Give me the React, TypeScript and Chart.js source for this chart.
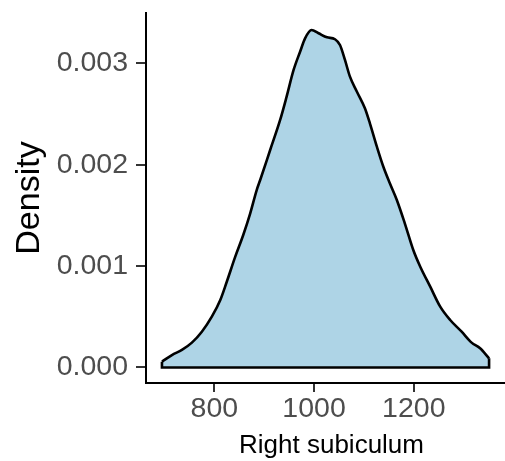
import React, { useEffect, useRef } from "react";
import { Chart, registerables } from "chart.js";

Chart.register(...registerables);

// Kernel density estimate of "Right subiculum"
const densityX = [695, 715, 735, 755, 775, 795, 812, 825, 842, 858, 872, 885, 892, 912, 932, 945, 959, 972, 982, 995, 1009, 1026, 1042, 1052, 1062, 1072, 1086, 1102, 1112, 1126, 1139, 1152, 1166, 1182, 1199, 1213, 1233, 1253, 1273, 1296, 1316, 1333, 1351];
const densityY = [0.000057, 0.000123, 0.000173, 0.000245, 0.000353, 0.000501, 0.000666, 0.000846, 0.001093, 0.001307, 0.001521, 0.00175, 0.001849, 0.002145, 0.002441, 0.002671, 0.002934, 0.003114, 0.003246, 0.003328, 0.003296, 0.003256, 0.003237, 0.00318, 0.003033, 0.002868, 0.00272, 0.002556, 0.002408, 0.002178, 0.00198, 0.001817, 0.001652, 0.001422, 0.001159, 0.000994, 0.000797, 0.0006, 0.000468, 0.000353, 0.000245, 0.000189, 0.000091];

const xTicks = [800, 1000, 1200];
const yTicks = [0, 0.001, 0.002, 0.003];
const xRange = [663, 1407];
const yRange = [-0.000153, 0.003496];

const xTitle = "Right subiculum";
const yTitle = "Density";

const FAMILY = "'Liberation Sans', Arial, Helvetica, sans-serif";

export default function App() {
  const ref = useRef<HTMLCanvasElement | null>(null);

  useEffect(() => {
    if (!ref.current) return;
    const curve = densityX.map((x, i) => ({ x, y: densityY[i] }));
    const n = densityX.length - 1;
    const outline = [
      { x: densityX[0], y: densityY[0] },
      { x: densityX[0], y: 0 },
      { x: densityX[n], y: 0 },
      { x: densityX[n], y: densityY[n] },
    ];
    const chart = new Chart(ref.current, {
      type: "line",
      data: {
        datasets: [
          {
            data: curve,
            borderColor: "#000000",
            borderWidth: 2.6,
            backgroundColor: "#AED4E6",
            fill: "origin",
            pointRadius: 0,
            cubicInterpolationMode: "monotone",
            order: 1,
          },
          {
            data: outline,
            borderColor: "#000000",
            borderWidth: 2.6,
            fill: false,
            pointRadius: 0,
            tension: 0,
            order: 0,
          },
        ],
      },
      options: {
        responsive: false,
        animation: false,
        devicePixelRatio: 1,
        layout: { padding: { top: 13, left: 0, right: 0, bottom: 0 } },
        plugins: { legend: { display: false }, tooltip: { enabled: false } },
        scales: {
          x: {
            type: "linear",
            min: xRange[0],
            max: xRange[1],
            afterBuildTicks: (s: any) => {
              s.ticks = xTicks.map((v) => ({ value: v }));
            },
            afterFit: (s: any) => {
              s.height = 78;
              s.paddingLeft = 0;
              s.paddingRight = 0;
            },
            grid: {
              display: true,
              drawOnChartArea: false,
              drawTicks: true,
              tickLength: 9,
              color: "#333333",
              lineWidth: 2,
            },
            border: { display: true, color: "#000000", width: 2 },
            ticks: {
              color: "#4D4D4D",
              font: { size: 28.5, family: FAMILY },
              padding: 0,
              maxRotation: 0,
              autoSkip: false,
              callback: (v: any) => String(v),
            },
            title: {
              display: true,
              text: xTitle,
              color: "#000000",
              font: { size: 26, family: FAMILY },
              padding: { top: 0, bottom: 0 },
            },
          },
          y: {
            type: "linear",
            min: yRange[0],
            max: yRange[1],
            afterBuildTicks: (s: any) => {
              s.ticks = yTicks.map((v) => ({ value: v }));
            },
            afterFit: (s: any) => {
              s.width = 146;
              s.paddingTop = 0;
              s.paddingBottom = 0;
            },
            grid: {
              display: true,
              drawOnChartArea: false,
              drawTicks: true,
              tickLength: 10,
              color: "#333333",
              lineWidth: 2,
            },
            border: { display: true, color: "#000000", width: 2 },
            ticks: {
              color: "#4D4D4D",
              font: { size: 28.5, family: FAMILY },
              padding: 8,
              autoSkip: false,
              callback: (v: any) => Number(v).toFixed(3),
            },
            title: {
              display: true,
              text: yTitle,
              color: "#000000",
              font: { size: 34, family: FAMILY },
              padding: { top: 9, bottom: 0 },
            },
          },
        },
      },
    } as any);
    return () => chart.destroy();
  }, []);

  return (
    <div style={{ position: "fixed", left: 0, top: 0, width: 505, height: 461, overflow: "hidden", background: "#fff" }}>
      <canvas ref={ref} width={517} height={461} style={{ display: "block" }} />
    </div>
  );
}
